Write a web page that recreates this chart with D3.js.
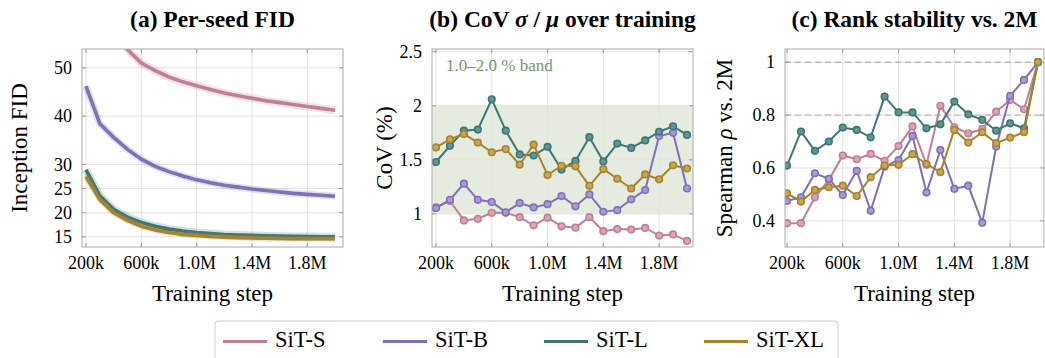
<!DOCTYPE html>
<html>
<head>
<meta charset="utf-8">
<script src="https://cdn.jsdelivr.net/npm/d3@7"></script>
<style>
  body { margin: 0; background: #fff; }
  text { font-family: "Liberation Serif", "Times New Roman", serif; fill: #000; }
</style>
</head>
<body>
<script>
// chart data
var steps = [200000, 300000, 400000, 500000, 600000, 700000, 800000, 900000, 1000000,
  1100000, 1200000, 1300000, 1400000, 1500000, 1600000, 1700000, 1800000, 1900000, 2000000];
var models = ["SiT-S", "SiT-B", "SiT-L", "SiT-XL"];
var xTicks = [200000, 600000, 1000000, 1400000, 1800000];
var xTickLabels = ["200k", "600k", "1.0M", "1.4M", "1.8M"];

// (a) mean FID per model
var fidS = [72, 64, 58, 53.8, 51.0, 49.4, 48.1, 47.1, 46.3, 45.5, 44.8, 44.2, 43.7, 43.2, 42.8, 42.4, 42.0, 41.6, 41.2];
var fidB = [46.2, 38.4, 35.6, 33.1, 31.1, 29.6, 28.5, 27.6, 26.8, 26.2, 25.7, 25.3, 24.9, 24.6, 24.3, 24.0, 23.8, 23.6, 23.4];
var fidL = [28.9, 23.5, 20.7, 19.1, 18.0, 17.2, 16.6, 16.2, 15.9, 15.7, 15.5, 15.4, 15.3, 15.2, 15.15, 15.1, 15.05, 15.0, 15.0];
var fidXL = [27.5, 22.7, 20.0, 18.4, 17.2, 16.4, 15.9, 15.5, 15.3, 15.1, 14.95, 14.85, 14.75, 14.7, 14.65, 14.6, 14.6, 14.6, 14.6];
var fidTicks = [15, 20, 25, 30, 40, 50];

// (b) CoV in %
var covS = [1.06, 1.12, 0.94, 0.955, 1.01, 1.01, 0.97, 0.895, 0.965, 0.885, 0.873, 0.97, 0.84, 0.86, 0.855, 0.87, 0.80, 0.81, 0.75];
var covB = [1.055, 1.13, 1.28, 1.13, 1.11, 1.015, 1.10, 1.06, 1.09, 1.165, 1.07, 1.18, 1.02, 1.035, 1.135, 1.22, 1.72, 1.75, 1.235];
var covL = [1.48, 1.63, 1.77, 1.78, 2.06, 1.77, 1.55, 1.54, 1.62, 1.41, 1.49, 1.71, 1.485, 1.65, 1.61, 1.68, 1.76, 1.81, 1.73];
var covXL = [1.615, 1.69, 1.74, 1.66, 1.57, 1.60, 1.455, 1.64, 1.36, 1.445, 1.44, 1.26, 1.415, 1.325, 1.235, 1.365, 1.32, 1.45, 1.42];
var covTicks = [1, 1.5, 2, 2.5];
var covBand = [1.0, 2.0];

// (c) Spearman rho vs 2M
var rhoS = [0.391, 0.391, 0.489, 0.555, 0.647, 0.633, 0.653, 0.627, 0.683, 0.757, 0.612, 0.835, 0.754, 0.731, 0.747, 0.813, 0.857, 0.822, 1.0];
var rhoB = [0.475, 0.489, 0.58, 0.559, 0.498, 0.589, 0.438, 0.605, 0.63, 0.721, 0.507, 0.668, 0.521, 0.533, 0.393, 0.681, 0.873, 0.933, 1.0];
var rhoL = [0.609, 0.738, 0.665, 0.70, 0.753, 0.744, 0.716, 0.87, 0.81, 0.81, 0.75, 0.765, 0.851, 0.803, 0.782, 0.741, 0.769, 0.75, 1.0];
var rhoXL = [0.504, 0.473, 0.517, 0.527, 0.533, 0.494, 0.565, 0.609, 0.612, 0.652, 0.615, 0.584, 0.744, 0.696, 0.735, 0.694, 0.715, 0.735, 1.0];
var rhoTicks = [0.4, 0.6, 0.8, 1];
var rhoRefs = [0.8, 1.0];

var lineColors = ["#c07f95", "#8070b8", "#3e7676", "#a6832c"];
var fillColors = ["#dca5b7", "#a999d8", "#5f9595", "#c9a650"];

var width = 1045;
var height = 358;

var svg = d3.select("body")
  .append("svg")
    .attr("width", width)
    .attr("height", height);

var makePanel = function(opt) {
  var x = d3.scaleLinear().domain([200000, 2000000]).range(opt.xRange);
  var y = d3.scaleLinear().domain(opt.yDomain).range([opt.bottom, opt.top]);
  var g = svg.append("g");

  g.append("rect")
    .attr("x", opt.left).attr("y", opt.top)
    .attr("width", opt.right - opt.left).attr("height", opt.bottom - opt.top)
    .attr("fill", "#fff");

  if (opt.band) {
    g.append("rect")
      .attr("x", opt.left).attr("width", opt.right - opt.left)
      .attr("y", y(opt.band[1])).attr("height", y(opt.band[0]) - y(opt.band[1]))
      .attr("fill", "#e5ecdf");
  }

  // grid
  g.selectAll(".vgrid").data(xTicks).enter().append("line")
    .attr("x1", function(d) { return x(d); }).attr("x2", function(d) { return x(d); })
    .attr("y1", opt.top).attr("y2", opt.bottom)
    .attr("stroke", "#e2e2e2").attr("stroke-width", 1);
  g.selectAll(".hgrid").data(opt.yTicks).enter().append("line")
    .attr("x1", opt.left).attr("x2", opt.right)
    .attr("y1", function(d) { return y(d); }).attr("y2", function(d) { return y(d); })
    .attr("stroke", "#e2e2e2").attr("stroke-width", 1);

  if (opt.refs) {
    g.selectAll(".ref").data(opt.refs).enter().append("line")
      .attr("x1", opt.left).attr("x2", opt.right)
      .attr("y1", function(d) { return y(d); }).attr("y2", function(d) { return y(d); })
      .attr("stroke", "#bdbdbd").attr("stroke-width", 1.4)
      .attr("stroke-dasharray", "6,4");
  }

  // inner ticks
  xTicks.forEach(function(t) {
    g.append("line").attr("x1", x(t)).attr("x2", x(t))
      .attr("y1", opt.bottom).attr("y2", opt.bottom - 4).attr("stroke", "#999");
    g.append("line").attr("x1", x(t)).attr("x2", x(t))
      .attr("y1", opt.top).attr("y2", opt.top + 4).attr("stroke", "#999");
  });
  opt.yTicks.forEach(function(t) {
    g.append("line").attr("x1", opt.left).attr("x2", opt.left + 4)
      .attr("y1", y(t)).attr("y2", y(t)).attr("stroke", "#999");
    g.append("line").attr("x1", opt.right).attr("x2", opt.right - 4)
      .attr("y1", y(t)).attr("y2", y(t)).attr("stroke", "#999");
  });

  var clipId = "clip" + opt.id;
  svg.append("clipPath").attr("id", clipId)
    .append("rect")
      .attr("x", opt.left).attr("y", opt.top)
      .attr("width", opt.right - opt.left).attr("height", opt.bottom - opt.top);

  var plot = g.append("g").attr("clip-path", "url(#" + clipId + ")");
  var line = d3.line()
    .x(function(d, i) { return x(steps[i]); })
    .y(function(d) { return y(d); });

  opt.series.forEach(function(vals, k) {
    if (opt.markers) {
      plot.append("path").datum(vals)
        .attr("d", line).attr("fill", "none")
        .attr("stroke", lineColors[k]).attr("stroke-width", 2);
      plot.selectAll(".m" + k).data(vals).enter().append("circle")
        .attr("cx", function(d, i) { return x(steps[i]); })
        .attr("cy", function(d) { return y(d); })
        .attr("r", 3.3)
        .attr("fill", fillColors[k])
        .attr("stroke", lineColors[k]).attr("stroke-width", 1.6);
    } else {
      // seed spread
      plot.append("path").datum(vals)
        .attr("d", line).attr("fill", "none")
        .attr("stroke", lineColors[k]).attr("stroke-opacity", 0.22)
        .attr("stroke-width", opt.spread[k]);
      plot.append("path").datum(vals)
        .attr("d", line).attr("fill", "none")
        .attr("stroke", lineColors[k]).attr("stroke-width", 3.6);
    }
  });

  // frame
  g.append("rect")
    .attr("x", opt.left).attr("y", opt.top)
    .attr("width", opt.right - opt.left).attr("height", opt.bottom - opt.top)
    .attr("fill", "none").attr("stroke", "#aaa").attr("stroke-width", 1);

  // tick labels
  g.selectAll(".xl").data(xTicks).enter().append("text")
    .attr("x", function(d) { return x(d); })
    .attr("y", 269)
    .attr("text-anchor", "middle")
    .style("font-size", "18px")
    .text(function(d, i) { return xTickLabels[i]; });
  g.selectAll(".yl").data(opt.yTicks).enter().append("text")
    .attr("x", opt.left - 10)
    .attr("y", function(d) { return y(d); })
    .attr("dy", "0.34em")
    .attr("text-anchor", "end")
    .style("font-size", "18px")
    .text(function(d) { return String(d); });

  g.append("text")
    .attr("x", (opt.left + opt.right) / 2).attr("y", 301)
    .attr("text-anchor", "middle")
    .style("font-size", "23px")
    .text("Training step");

  var yl = g.append("text")
    .attr("transform", "translate(" + opt.yLabelX + "," + ((opt.top + opt.bottom) / 2) + ") rotate(-90)")
    .attr("text-anchor", "middle")
    .style("font-size", "23px");
  opt.yLabel.forEach(function(p) {
    yl.append("tspan").style("font-style", p.italic ? "italic" : "normal").text(p.t);
  });

  var tt = g.append("text")
    .attr("x", (opt.left + opt.right) / 2).attr("y", 26.5)
    .attr("text-anchor", "middle")
    .style("font-size", "23.5px").style("font-weight", "bold");
  opt.title.forEach(function(p) {
    tt.append("tspan").style("font-style", p.italic ? "italic" : "normal").text(p.t);
  });

  return { x: x, y: y, g: g };
};

makePanel({
  id: "a", left: 82, right: 343, top: 49, bottom: 247,
  xRange: [86, 335], yDomain: [12.9, 53.9], yTicks: fidTicks,
  series: [fidS, fidB, fidL, fidXL], markers: false, spread: [8, 7, 8, 6],
  yLabelX: 27, yLabel: [{ t: "Inception FID" }],
  title: [{ t: "(a) Per-seed FID" }]
});

var pb = makePanel({
  id: "b", left: 432, right: 693, top: 49, bottom: 247,
  xRange: [436, 687], yDomain: [0.694, 2.525], yTicks: covTicks, band: covBand,
  series: [covS, covB, covL, covXL], markers: true,
  yLabelX: 392, yLabel: [{ t: "CoV (%)" }],
  title: [{ t: "(b) CoV " }, { t: "σ", italic: true }, { t: " / " }, { t: "μ", italic: true }, { t: " over training" }]
});

pb.g.append("text")
  .attr("x", 446).attr("y", 70.5)
  .style("font-size", "17px")
  .style("fill", "#6f9a62")
  .text("1.0–2.0 % band");

makePanel({
  id: "c", left: 785, right: 1044, top: 49, bottom: 247,
  xRange: [787, 1038], yDomain: [0.301, 1.05], yTicks: rhoTicks, refs: rhoRefs,
  series: [rhoS, rhoB, rhoL, rhoXL], markers: true,
  yLabelX: 732, yLabel: [{ t: "Spearman " }, { t: "ρ", italic: true }, { t: " vs. 2M" }],
  title: [{ t: "(c) Rank stability vs. 2M" }]
});

// legend
var legendX = [223, 383, 544, 704];
svg.append("rect")
  .attr("x", 215).attr("y", 321)
  .attr("width", 623).attr("height", 50)
  .attr("rx", 3)
  .attr("fill", "#fff").attr("stroke", "#cfcfcf");

var items = svg.selectAll(".legend").data(models).enter().append("g");
items.append("line")
  .attr("x1", function(d, i) { return legendX[i]; })
  .attr("x2", function(d, i) { return legendX[i] + 44; })
  .attr("y1", 341.5).attr("y2", 341.5)
  .attr("stroke", function(d, i) { return lineColors[i]; })
  .attr("stroke-width", 3);
items.append("text")
  .attr("x", function(d, i) { return legendX[i] + 52; })
  .attr("y", 346.5)
  .style("font-size", "22.5px")
  .text(function(d) { return d; });
</script>
</body>
</html>
